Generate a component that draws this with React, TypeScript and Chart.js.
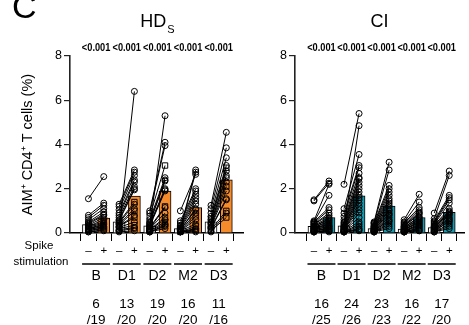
import React, { useEffect, useRef } from 'react';
import { Chart, registerables } from 'chart.js';
Chart.register(...registerables);

const FONT = "Arial, 'Liberation Sans', Helvetica, sans-serif";

const groups = ['B', 'D1', 'D2', 'M2', 'D3'];
const stimLabels = ['–', '+'];
const yTitle = 'AIM⁺ CD4⁺ T cells (%)';

const pValuesHD = ['<0.001', '<0.001', '<0.001', '<0.001', '<0.001'];
const pValuesCI = ['<0.001', '<0.001', '<0.001', '<0.001', '<0.001'];
const respondersHD = ['6', '13', '19', '16', '11'];
const totalsHD = ['/19', '/20', '/20', '/20', '/16'];
const respondersCI = ['16', '24', '23', '16', '17'];
const totalsCI = ['/25', '/26', '/23', '/22', '/20'];

// bar heights (group means)
const hdBarUnstim = [0.38, 0.5, 0.32, 0.2, 0.5];
const hdBarStim = [0.68, 1.67, 1.9, 1.15, 2.4];
const ciBarUnstim = [0.3, 0.32, 0.2, 0.18, 0.25];
const ciBarStim = [0.7, 1.68, 1.22, 0.7, 0.93];

// HD_S donors (unstimulated / spike-stimulated, paired by index)
const hdUnstimB = [1.55, 0.8, 0.7, 0.6, 0.5, 0.45, 0.4, 0.35, 0.3, 0.3, 0.25, 0.2, 0.2, 0.15, 0.15, 0.1, 0.1, 0.05, 0.05];
const hdStimB = [2.55, 1.35, 1.25, 1.1, 0.95, 0.85, 0.8, 0.7, 0.6, 0.5, 0.45, 0.4, 0.35, 0.3, 0.3, 0.25, 0.2, 0.15, 0.1];
const hdUnstimD1 = [0.1, 1.3, 1.2, 1.05, 0.9, 0.8, 0.7, 0.6, 0.55, 0.5, 0.45, 0.4, 0.35, 0.3, 0.3, 0.25, 0.2, 0.15, 0.1, 0.05];
const hdStimD1 = [6.4, 2.85, 2.75, 2.6, 2.4, 2.3, 2.1, 2.0, 1.95, 1.4, 1.3, 1.1, 1.0, 0.8, 0.7, 0.5, 0.35, 0.25, 0.2, 0.1];
const hdUnstimD2 = [0.3, 1.0, 0.9, 0.75, 0.6, 0.5, 0.45, 0.4, 0.35, 0.3, 0.25, 0.2, 0.2, 0.15, 0.15, 0.1, 0.1, 0.05, 0.05, 0.05];
const hdStimD2 = [5.3, 4.1, 3.95, 3.05, 2.5, 2.4, 2.35, 2.0, 1.95, 1.9, 1.2, 1.15, 0.9, 0.7, 0.6, 0.5, 0.4, 0.35, 0.3, 0.2];
const hdUnstimM2 = [0.2, 0.15, 1.0, 0.55, 0.45, 0.35, 0.3, 0.25, 0.2, 0.15, 0.15, 0.1, 0.1, 0.1, 0.1, 0.05, 0.05, 0.05, 0.05, 0.05];
const hdStimM2 = [2.85, 2.75, 2.65, 2.0, 1.9, 1.75, 1.6, 1.45, 1.3, 1.1, 1.05, 0.9, 0.75, 0.6, 0.4, 0.3, 0.2, 0.15, 0.1, 0.05];
const hdUnstimD3 = [1.25, 1.1, 0.9, 0.75, 0.65, 0.6, 0.5, 0.45, 0.4, 0.35, 0.3, 0.25, 0.2, 0.15, 0.1, 0.05];
const hdStimD3 = [4.55, 3.85, 3.4, 3.05, 2.95, 2.8, 2.6, 2.5, 2.3, 2.1, 1.9, 1.55, 1.5, 1.0, 0.7, 0.9];
const hdSquares = [[9, 12, 14], [9, 12, 14, 16], [3, 10, 13, 15], [12, 15], [4, 9, 13, 14]];

// CI donors
const ciUnstimB = [1.5, 1.45, 0.55, 0.5, 0.5, 0.45, 0.4, 0.4, 0.35, 0.3, 0.3, 0.25, 0.25, 0.2, 0.2, 0.2, 0.15, 0.15, 0.1, 0.1, 0.1, 0.05, 0.05, 0.05, 0.05];
const ciStimB = [2.35, 2.25, 2.2, 1.7, 1.15, 1.05, 0.9, 0.8, 0.7, 0.65, 0.6, 0.55, 0.5, 0.45, 0.4, 0.35, 0.3, 0.3, 0.25, 0.2, 0.2, 0.15, 0.1, 0.1, 0.05];
const ciUnstimD1 = [2.2, 0.3, 1.1, 0.9, 0.75, 0.6, 0.5, 0.45, 0.4, 0.35, 0.3, 0.25, 0.25, 0.2, 0.2, 0.15, 0.15, 0.15, 0.1, 0.1, 0.1, 0.05, 0.05, 0.05, 0.05, 0.05];
const ciStimD1 = [5.4, 4.85, 3.55, 3.05, 2.95, 2.7, 2.5, 2.45, 2.3, 2.15, 2.0, 1.85, 1.7, 1.6, 1.5, 1.35, 1.2, 1.05, 0.9, 0.7, 0.5, 0.4, 0.3, 0.2, 0.15, 0.1];
const ciUnstimD2 = [0.5, 0.45, 0.45, 0.4, 0.35, 0.3, 0.3, 0.25, 0.25, 0.2, 0.2, 0.2, 0.15, 0.15, 0.15, 0.1, 0.1, 0.1, 0.1, 0.05, 0.05, 0.05, 0.05];
const ciStimD2 = [3.2, 2.85, 2.15, 2.0, 1.85, 1.7, 1.55, 1.45, 1.35, 1.25, 1.15, 1.05, 1.0, 0.9, 0.85, 0.8, 0.7, 0.6, 0.55, 0.5, 0.4, 0.3, 0.2];
const ciUnstimM2 = [0.6, 0.5, 0.45, 0.4, 0.35, 0.3, 0.3, 0.25, 0.25, 0.2, 0.2, 0.15, 0.15, 0.15, 0.1, 0.1, 0.1, 0.05, 0.05, 0.05, 0.05, 0.05];
const ciStimM2 = [1.75, 1.4, 1.15, 1.05, 0.95, 0.9, 0.85, 0.75, 0.7, 0.65, 0.6, 0.55, 0.5, 0.45, 0.4, 0.35, 0.3, 0.25, 0.2, 0.15, 0.1, 0.1];
const ciUnstimD3 = [0.9, 0.65, 0.55, 0.5, 0.45, 0.4, 0.35, 0.3, 0.3, 0.25, 0.25, 0.2, 0.2, 0.15, 0.15, 0.1, 0.1, 0.05, 0.05, 0.05];
const ciStimD3 = [2.8, 2.6, 1.7, 1.6, 1.5, 1.35, 1.1, 1.0, 0.95, 0.9, 0.85, 0.8, 0.7, 0.65, 0.6, 0.55, 0.5, 0.4, 0.3, 0.2];
const ciSquares = [[], [], [], [], []];

const ORANGE = '#F68B2C';
const TEAL = '#1B9AAE';

type Panel = {
  unstim: number[][];
  stim: number[][];
  squares: number[][];
  barUnstim: number[];
  barStim: number[];
  color: string;
  pValues: string[];
  responders: string[];
  totals: string[];
  isLeft: boolean;
  width: number;
  yWidth: number;
  padRight: number;
  xMin: number;
  xMax: number;
};

const panels: Panel[] = [
  {
    unstim: [hdUnstimB, hdUnstimD1, hdUnstimD2, hdUnstimM2, hdUnstimD3],
    stim: [hdStimB, hdStimD1, hdStimD2, hdStimM2, hdStimD3],
    squares: hdSquares,
    barUnstim: hdBarUnstim,
    barStim: hdBarStim,
    color: ORANGE,
    pValues: pValuesHD,
    responders: respondersHD,
    totals: totalsHD,
    isLeft: true,
    width: 248,
    yWidth: 70,
    padRight: 3,
    xMin: -0.639,
    xMax: 9.524,
  },
  {
    unstim: [ciUnstimB, ciUnstimD1, ciUnstimD2, ciUnstimM2, ciUnstimD3],
    stim: [ciStimB, ciStimD1, ciStimD2, ciStimM2, ciStimD3],
    squares: ciSquares,
    barUnstim: ciBarUnstim,
    barStim: ciBarStim,
    color: TEAL,
    pValues: pValuesCI,
    responders: respondersCI,
    totals: totalsCI,
    isLeft: false,
    width: 221,
    yWidth: 47,
    padRight: 0,
    xMin: -0.7,
    xMax: 9.42,
  },
];

function buildDatasets(p: Panel) {
  const barData: { x: number; y: number }[] = [];
  const barColors: string[] = [];
  groups.forEach((_, gi) => {
    barData.push({ x: 2 * gi, y: p.barUnstim[gi] }, { x: 2 * gi + 1, y: p.barStim[gi] });
    barColors.push('#ffffff', p.color);
  });
  const ds: any[] = [
    {
      type: 'bar',
      data: barData,
      backgroundColor: barColors,
      borderColor: '#000',
      borderWidth: 1,
      barThickness: 12,
      order: 2,
    },
  ];
  groups.forEach((_, gi) => {
    p.unstim[gi].forEach((u, di) => {
      const sq = p.squares[gi].includes(di);
      ds.push({
        type: 'line',
        data: [
          { x: 2 * gi, y: u },
          { x: 2 * gi + 1, y: p.stim[gi][di] },
        ],
        borderColor: '#000',
        borderWidth: 1,
        pointStyle: sq ? 'rect' : 'circle',
        pointRadius: sq ? 3.8 : 3,
        pointBorderWidth: 1,
        pointBorderColor: '#000',
        pointBackgroundColor: 'rgba(255,255,255,0)',
        order: 1,
        clip: false,
      });
    });
  });
  return ds;
}

function makeAnnotations(p: Panel) {
  return {
    id: 'panelText' + (p.isLeft ? 'L' : 'R'),
    afterDraw(chart: any) {
      const ctx = chart.ctx as CanvasRenderingContext2D;
      const x = chart.scales.x;
      const area = chart.chartArea;
      ctx.save();
      ctx.fillStyle = '#000';
      ctx.strokeStyle = '#000';
      const center = (area.left + area.right) / 2;
      ctx.textBaseline = 'alphabetic';
      if (p.isLeft) {
        ctx.font = `34px ${FONT}`;
        ctx.textAlign = 'left';
        ctx.fillText('C', 12, 18);
        ctx.font = `18px ${FONT}`;
        const wMain = ctx.measureText('HD').width;
        ctx.font = `11px ${FONT}`;
        const wSub = ctx.measureText('S').width;
        const start = center + 1 - (wMain + wSub + 1) / 2;
        ctx.font = `18px ${FONT}`;
        ctx.fillText('HD', start, 27);
        ctx.font = `11px ${FONT}`;
        ctx.fillText('S', start + wMain + 1, 33);
        ctx.font = `11.5px ${FONT}`;
        ctx.textAlign = 'center';
        ctx.fillText('Spike', 39, 249);
        ctx.fillText('stimulation', 41, 265);
      } else {
        ctx.font = `18px ${FONT}`;
        ctx.textAlign = 'center';
        ctx.fillText('CI', center, 27);
      }
      groups.forEach((g, gi) => {
        const cx = (x.getPixelForValue(2 * gi) + x.getPixelForValue(2 * gi + 1)) / 2;
        ctx.textAlign = 'center';
        ctx.save();
        ctx.translate(cx, 51);
        ctx.scale(0.88, 1);
        ctx.font = `bold 10.5px ${FONT}`;
        ctx.fillText(p.pValues[gi], 0, 0);
        ctx.restore();
        ctx.lineWidth = 1.5;
        ctx.beginPath();
        ctx.moveTo(cx - 14, 264);
        ctx.lineTo(cx + 14, 264);
        ctx.stroke();
        ctx.font = `14px ${FONT}`;
        ctx.fillText(g, cx, 280);
        ctx.font = `13.5px ${FONT}`;
        ctx.fillText(p.responders[gi], cx, 308);
        ctx.fillText(p.totals[gi], cx, 324);
      });
      ctx.restore();
    },
  };
}

function makeConfig(p: Panel): any {
  return {
    type: 'bar',
    data: { datasets: buildDatasets(p) },
    options: {
      animation: false,
      responsive: false,
      maintainAspectRatio: false,
      events: [],
      layout: { padding: { left: 0, right: p.padRight, top: 56, bottom: 0 } },
      plugins: {
        legend: { display: false },
        tooltip: { enabled: false },
        title: { display: false },
      },
      scales: {
        x: {
          type: 'linear',
          min: p.xMin,
          max: p.xMax,
          afterBuildTicks: (s: any) => {
            s.ticks = Array.from({ length: groups.length * 2 }, (_, i) => ({ value: i }));
          },
          afterFit: (s: any) => {
            s.height = 92;
          },
          grid: { display: true, drawOnChartArea: false, drawTicks: true, tickLength: 8, color: '#000', lineWidth: 1 },
          border: { display: true, color: '#000', width: 1.5 },
          ticks: {
            autoSkip: false,
            maxRotation: 0,
            padding: 3,
            color: '#000',
            font: { family: FONT, size: 11.5 },
            callback: (v: number) => stimLabels[Math.round(v) % 2],
          },
        },
        y: {
          min: 0,
          max: 8,
          afterFit: (s: any) => {
            s.width = p.yWidth;
          },
          grid: { display: true, drawOnChartArea: false, drawTicks: true, tickLength: 6, color: '#222', lineWidth: 1.2 },
          border: { display: true, color: '#222', width: 1.6 },
          ticks: { stepSize: 2, padding: 2, color: '#000', font: { family: FONT, size: 12.5 } },
          title: {
            display: p.isLeft,
            text: yTitle,
            color: '#000',
            font: { family: FONT, size: 14.5 },
            padding: { top: 19.5, bottom: 0 },
          },
        },
      },
    },
    plugins: [makeAnnotations(p)],
  };
}

function PanelChart({ panel, left }: { panel: Panel; left: number }) {
  const ref = useRef<HTMLCanvasElement | null>(null);
  useEffect(() => {
    if (!ref.current) return;
    const chart = new Chart(ref.current, makeConfig(panel));
    return () => chart.destroy();
  }, [panel]);
  return (
    <canvas
      ref={ref}
      width={panel.width}
      height={325}
      style={{ position: 'absolute', left, top: 0, width: panel.width, height: 325 }}
    />
  );
}

export default function App() {
  useEffect(() => {
    document.body.style.margin = '0';
  }, []);
  return (
    <div style={{ position: 'absolute', left: 0, top: 0, width: 469, height: 325, background: '#fff', overflow: 'hidden' }}>
      <PanelChart panel={panels[0]} left={0} />
      <PanelChart panel={panels[1]} left={248} />
    </div>
  );
}
